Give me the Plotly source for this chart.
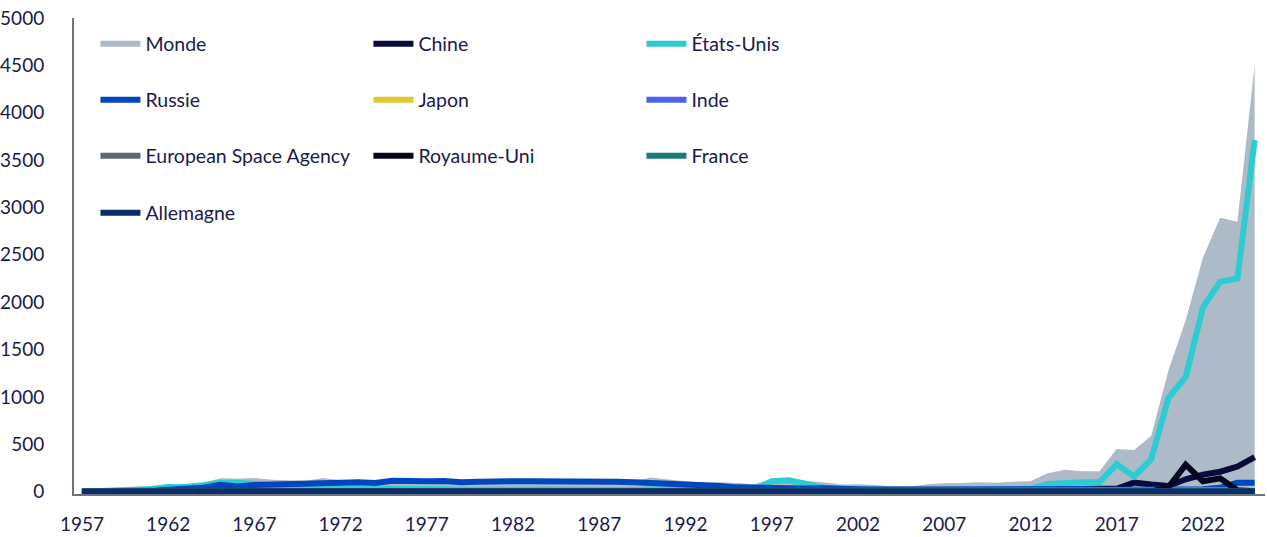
import plotly.graph_objects as go

years = list(range(1957, 2026))

monde = [2, 8, 14, 19, 35, 60, 62, 87, 140, 135, 145, 125, 120, 115, 145, 118, 118, 115, 132, 130,
         128, 122, 108, 112, 128, 126, 126, 128, 124, 112, 118, 118, 110, 150, 128, 110, 100, 98, 92, 78,
         135, 145, 112, 100, 74, 78, 70, 55, 52, 77, 88, 92, 100, 95, 105, 110, 195, 230, 215, 215,
         450, 440, 586, 1280, 1810, 2470, 2890, 2850, 4500]

etats_unis = [0, 5, 10, 16, 28, 50, 50, 68, 95, 95, 85, 65, 55, 38, 38, 32, 28, 25, 30, 30,
              28, 25, 20, 15, 18, 20, 22, 20, 18, 10, 10, 12, 15, 25, 20, 15, 12, 15, 20, 25,
              110, 120, 80, 40, 25, 22, 25, 15, 12, 20, 18, 20, 25, 22, 28, 30, 80, 95, 100, 100,
              290, 160, 340, 990, 1210, 1945, 2215, 2250, 3710]

russie = [2, 1, 3, 4, 8, 20, 25, 40, 72, 55, 70, 78, 80, 88, 100, 95, 100, 92, 115, 120,
          110, 112, 100, 105, 115, 110, 110, 112, 112, 108, 110, 105, 100, 95, 85, 75, 65, 60, 45, 38,
          42, 35, 32, 35, 25, 25, 22, 22, 25, 27, 25, 25, 28, 30, 32, 30, 32, 36, 28, 20,
          20, 22, 25, 18, 30, 25, 40, 95, 95]

chine = [0, 0, 0, 0, 0, 0, 0, 0, 0, 0, 0, 0, 0, 1, 1, 0, 0, 0, 3, 2,
         0, 1, 0, 0, 2, 1, 1, 2, 1, 2, 2, 4, 3, 5, 2, 3, 2, 5, 3, 3,
         8, 8, 5, 6, 3, 5, 8, 10, 8, 8, 15, 12, 10, 15, 20, 25, 20, 25, 25, 30,
         30, 95, 75, 60, 130, 180, 210, 265, 365]

japon = [0, 0, 0, 0, 0, 0, 0, 0, 0, 0, 0, 0, 0, 1, 2, 1, 0, 1, 2, 2,
         3, 4, 2, 2, 3, 3, 3, 3, 3, 3, 3, 3, 3, 5, 3, 2, 3, 3, 4, 3,
         4, 3, 2, 2, 3, 4, 4, 3, 6, 5, 6, 5, 5, 6, 6, 5, 10, 8, 6, 6,
         12, 10, 12, 8, 8, 10, 8, 10, 12]

inde = [0, 0, 0, 0, 0, 0, 0, 0, 0, 0, 0, 0, 0, 0, 0, 0, 0, 0, 1, 0,
        0, 1, 1, 1, 1, 1, 1, 1, 0, 1, 1, 1, 0, 1, 1, 1, 1, 1, 1, 1,
        2, 1, 2, 2, 2, 2, 2, 1, 1, 2, 3, 3, 2, 3, 3, 4, 3, 4, 5, 8,
        10, 8, 6, 3, 4, 8, 10, 6, 6]

esa = [0, 0, 0, 0, 0, 0, 0, 0, 0, 0, 0, 0, 0, 0, 0, 0, 0, 0, 1, 1,
       2, 1, 1, 1, 1, 1, 1, 2, 1, 1, 1, 1, 1, 2, 2, 2, 2, 2, 2, 3,
       3, 3, 3, 3, 3, 3, 3, 3, 4, 3, 3, 4, 5, 4, 4, 4, 3, 5, 5, 5,
       4, 5, 4, 3, 5, 5, 4, 5, 4]

royaume_uni = [0, 0, 0, 0, 0, 1, 0, 0, 0, 0, 1, 0, 0, 0, 1, 0, 0, 1, 0, 0,
               0, 0, 0, 0, 0, 0, 0, 0, 0, 0, 0, 0, 0, 0, 0, 0, 0, 0, 0, 0,
               0, 1, 0, 0, 0, 1, 0, 0, 1, 1, 0, 1, 1, 1, 1, 2, 2, 5, 3, 2,
               3, 5, 3, 45, 285, 110, 140, 15, 5]

france = [0, 0, 0, 0, 0, 0, 0, 0, 1, 1, 1, 0, 0, 1, 1, 0, 0, 0, 1, 0,
          0, 0, 0, 0, 1, 0, 0, 1, 0, 1, 1, 1, 1, 2, 1, 1, 1, 1, 2, 1,
          2, 2, 2, 2, 2, 2, 1, 1, 2, 2, 2, 2, 3, 2, 3, 2, 2, 3, 2, 3,
          3, 3, 3, 5, 5, 5, 6, 5, 4]

allemagne = [0, 0, 0, 0, 0, 0, 0, 0, 0, 0, 0, 0, 1, 0, 0, 0, 0, 1, 0, 0,
             0, 0, 0, 0, 0, 0, 0, 0, 0, 0, 0, 0, 0, 1, 0, 0, 0, 0, 1, 0,
             1, 1, 0, 1, 0, 1, 0, 0, 1, 1, 1, 1, 0, 1, 0, 1, 1, 1, 2, 1,
             2, 2, 2, 2, 2, 3, 3, 2, 2]

tick_years = list(range(1957, 2026, 5))
y_ticks = list(range(0, 5001, 500))

FONT = "Source Sans Pro, Lato, Noto Sans, sans-serif"
TXT = "#1b1a4b"

series = [
    ("Chine", chine, "#0a0a3c", "legend"),
    ("États-Unis", etats_unis, "#2ecbd3", "legend"),
    ("Russie", russie, "#0046be", "legend2"),
    ("Japon", japon, "#e2c930", "legend2"),
    ("Inde", inde, "#4f5ff0", "legend2"),
    ("European Space Agency", esa, "#5d6872", "legend3"),
    ("Royaume-Uni", royaume_uni, "#06061f", "legend3"),
    ("France", france, "#1c7a7c", "legend3"),
    ("Allemagne", allemagne, "#0c2d6b", "legend4"),
]

fig = go.Figure()
fig.add_trace(go.Scatter(x=years, y=monde, name="Monde", mode="none", fill="tozeroy",
                         fillcolor="#adbac7", legend="legend"))
for name, vals, col, lg in series:
    fig.add_trace(go.Scatter(x=years, y=vals, name=name, mode="lines",
                             line=dict(color=col, width=6), legend=lg))

def lg(yc):
    return dict(orientation="h", x=0.018, xanchor="left", y=yc, yanchor="middle",
                entrywidth=218, entrywidthmode="pixels", bgcolor="rgba(0,0,0,0)",
                font=dict(family=FONT, size=19.5, color=TXT), itemwidth=40,
                traceorder="normal")

plot_top, plot_bottom = 18, 494
rows = [44, 100, 156, 213]
ypos = [1 - (r - plot_top) / (plot_bottom - plot_top) for r in rows]

fig.update_layout(
    width=1267, height=537,
    margin=dict(l=74, r=2, t=18, b=43, autoexpand=False),
    plot_bgcolor="white", paper_bgcolor="white",
    font=dict(family=FONT, size=19, color=TXT),
    legend=lg(ypos[0]), legend2=lg(ypos[1]), legend3=lg(ypos[2]), legend4=lg(ypos[3]),
    xaxis=dict(range=[1956.54, 2025.6], tickmode="array", tickvals=tick_years,
               ticktext=[str(t) for t in tick_years], showgrid=False, zeroline=False,
               showline=True, linecolor="#6b747c", linewidth=2, ticks="",
               ticklabelstandoff=12, ticklabeloverflow="allow", automargin=False,
               tickfont=dict(family=FONT, size=19, color=TXT)),
    yaxis=dict(range=[-25, 5000], tickmode="array", tickvals=y_ticks,
               showgrid=False, zeroline=False, showline=True, linecolor="#6b747c",
               linewidth=2, ticks="", ticklabelstandoff=24, ticklabeloverflow="allow",
               automargin=False,
               tickfont=dict(family=FONT, size=19, color=TXT)),
)

fig.write_html("out.html", config={"displayModeBar": False},
               post_script="document.body.style.margin='0';")
